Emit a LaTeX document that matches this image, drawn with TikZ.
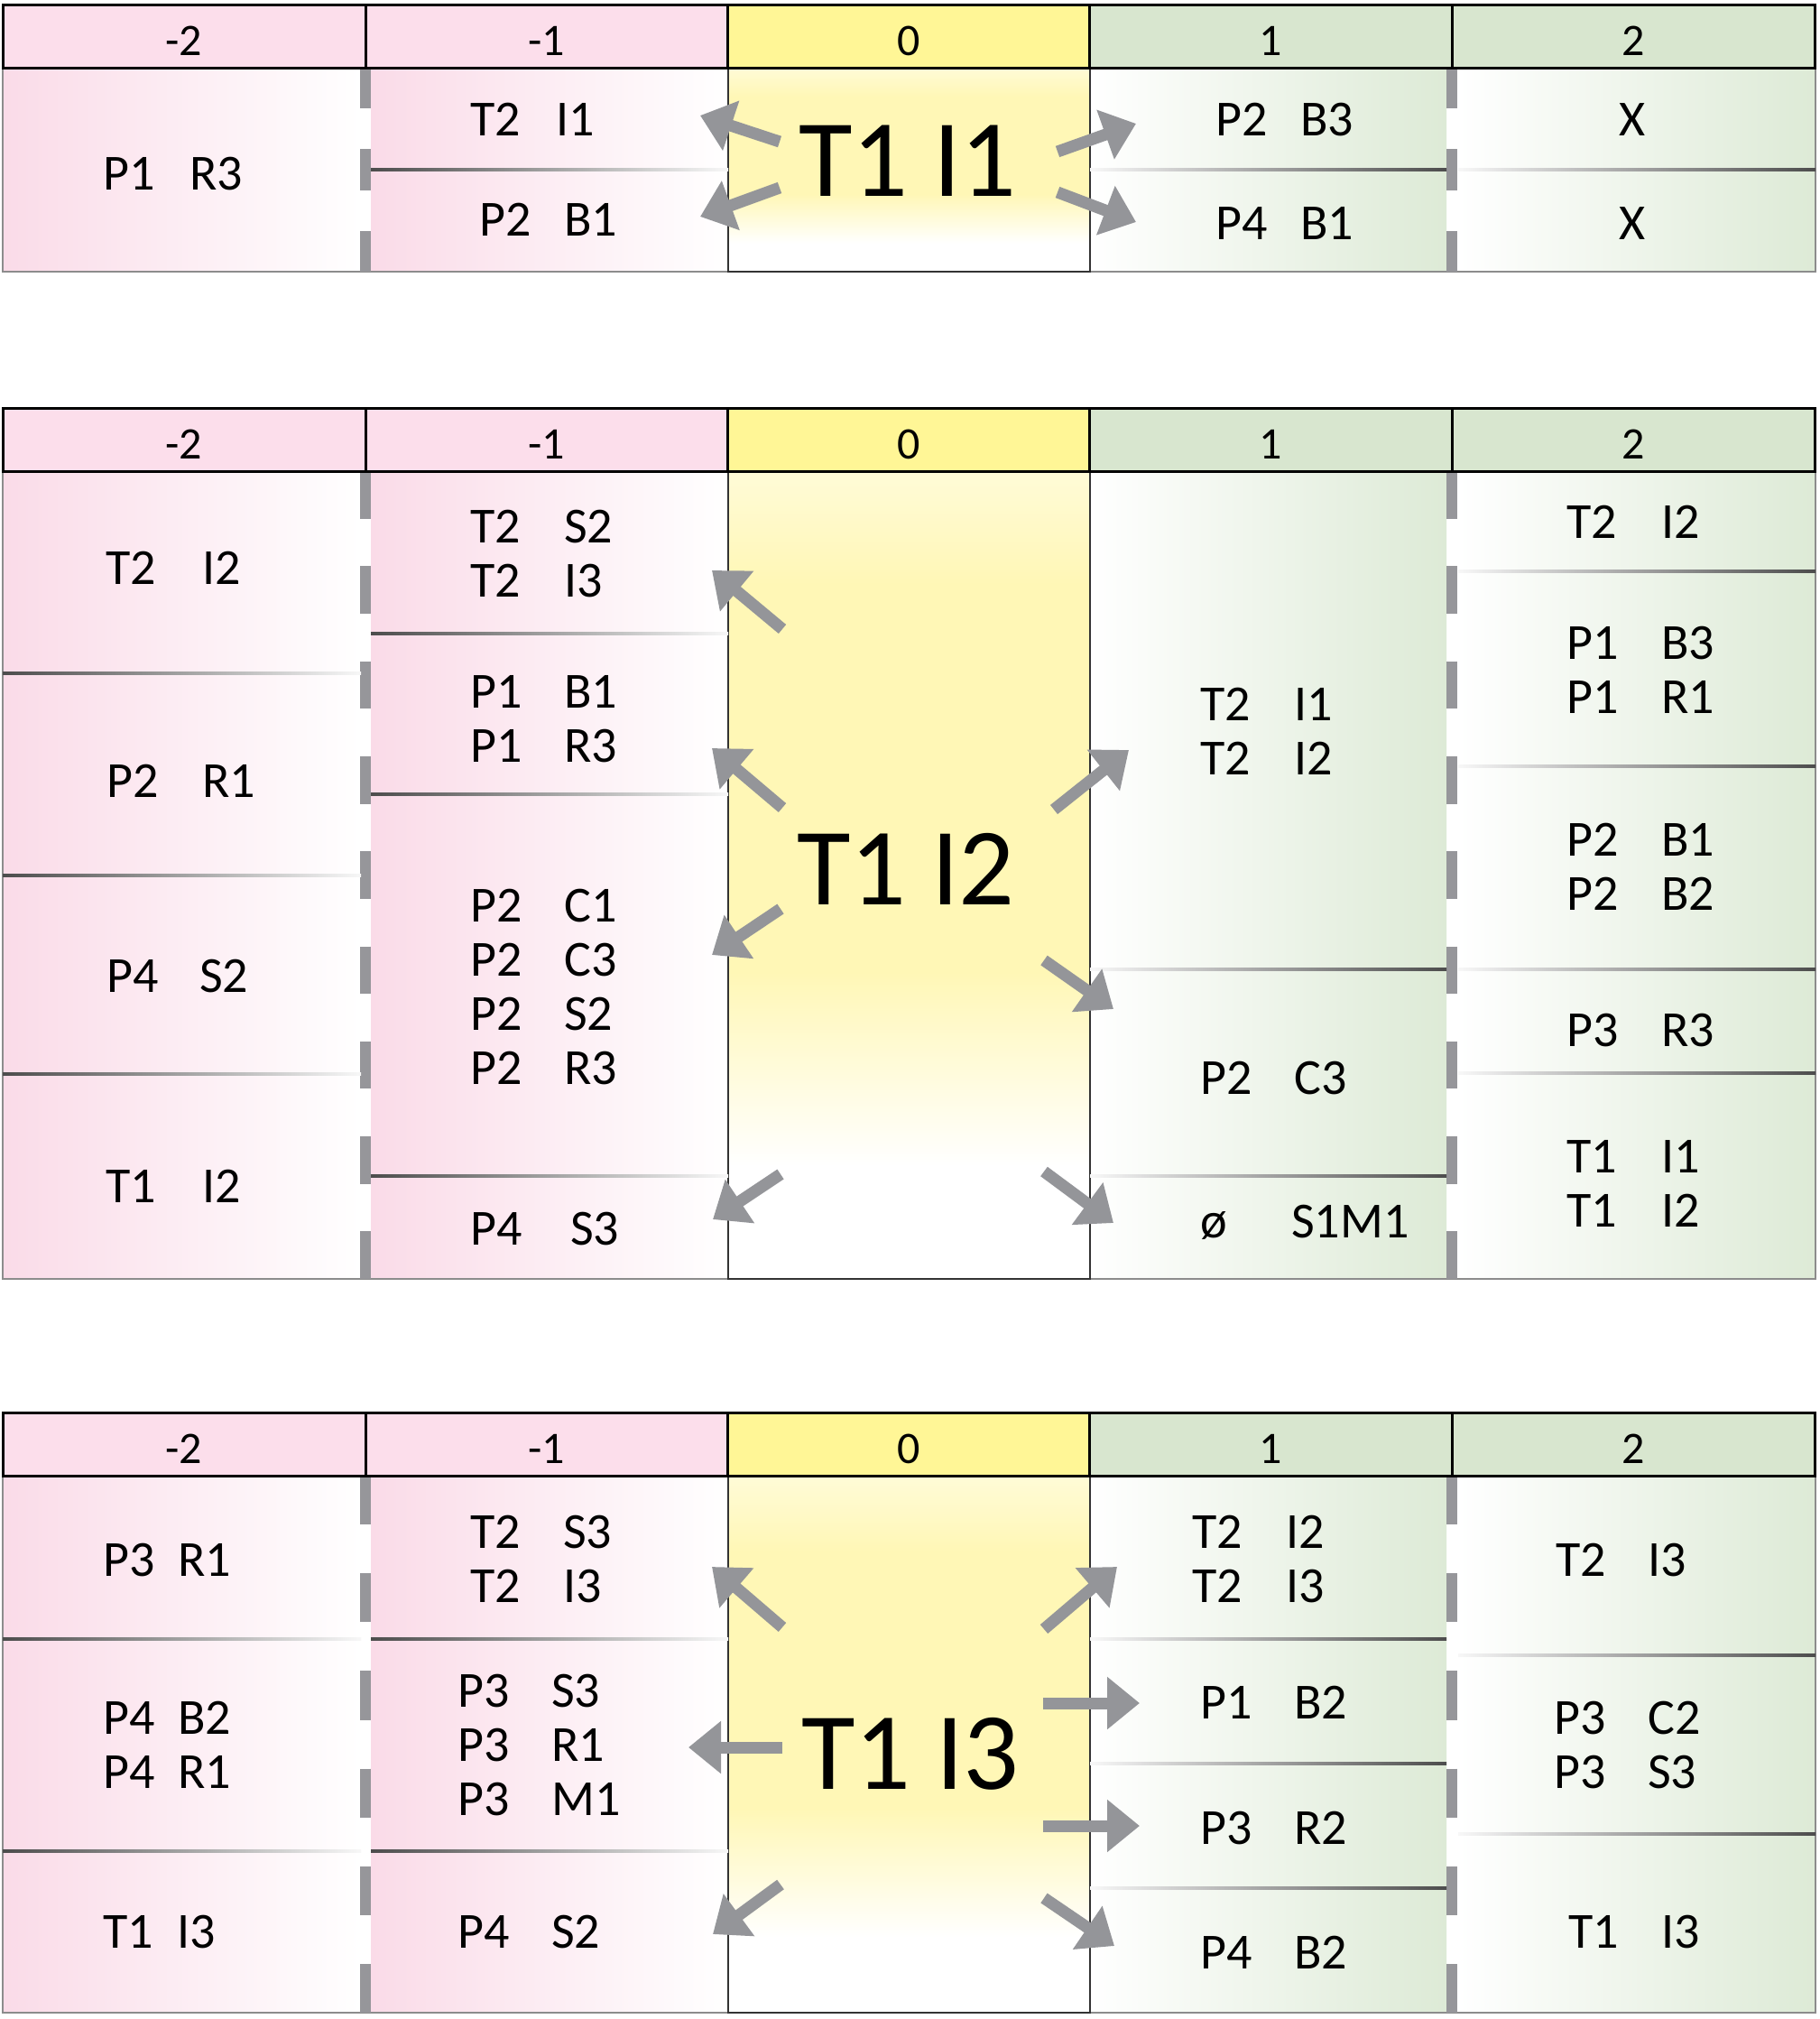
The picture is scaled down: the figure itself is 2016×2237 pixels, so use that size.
\documentclass[tikz,border=0pt]{standalone}
\usepackage{fontspec}
\setmainfont{Carlito}
\usetikzlibrary{arrows.meta}
\definecolor{pinkH}{RGB}{252,222,235}
\definecolor{yelH}{RGB}{255,246,150}
\definecolor{grnH}{RGB}{216,230,207}
\definecolor{pinkB}{RGB}{250,219,232}
\definecolor{grnB}{RGB}{221,234,214}
\definecolor{yelB}{RGB}{255,247,182}
\definecolor{yelT}{RGB}{255,251,215}
\definecolor{arrG}{RGB}{148,149,153}
\definecolor{dashG}{RGB}{150,150,154}
\pgfdeclareverticalshading{yelfade}{100bp}{color(0bp)=(white); color(25bp)=(white); color(32bp)=(white); color(44bp)=(yelB); color(68bp)=(yelB); color(75bp)=(yelT); color(100bp)=(yelT)}
\newcommand\cel[2]{\begin{tabular}{@{}p{#1pt}@{}l@{}}#2\end{tabular}}
\tikzset{
  hdrcell/.style={draw=black, line width=3pt, minimum width=402pt, minimum height=70pt, inner sep=0pt},
  hdrtext/.style={font=\fontsize{50}{56}\selectfont, inner sep=0pt},
  celltext/.style={font=\fontsize{56}{60}\selectfont, inner sep=0pt, anchor=west},
  xtext/.style={font=\fontsize{56}{60}\selectfont, inner sep=0pt},
  bigtext/.style={font=\fontsize{122}{130}\selectfont, inner sep=0pt},
  arr/.style={line width=13pt, color=arrG, -{Triangle[length=36pt,width=56pt]}},
  sepline/.style={line width=12pt, color=dashG},
  rowL/.style={left color=black!70, right color=black!3},
  rowR/.style={left color=black!3, right color=black!70},
  pinkfill/.style={left color=pinkB, right color=white},
  grnfill/.style={left color=white, right color=grnB},
  yelfill/.style={shading=yelfade},
  thinb/.style={line width=1.5pt, color=black!45},
  zerob/.style={line width=1.5pt, color=black!80},
}
% #1 prefix, #2 top, #3 header bottom, #4 bottom, #5 dash length
\newcommand\sect[5]{%
  \shade[pinkfill] (3,#3) rectangle (400,#4);
  \shade[pinkfill] (411,#3) rectangle (807,#4);
  \shade[yelfill] (807,#3) rectangle (1208,#4);
  \shade[grnfill] (1208,#3) rectangle (1603,#4);
  \shade[grnfill] (1616,#3) rectangle (2012,#4);
  \draw[thinb] (3,#3) -- (3,#4) -- (2012,#4) -- (2012,#3);
  \draw[zerob] (807,#3) -- (807,#4) -- (1208,#4) -- (1208,#3);
  \draw[sepline, dash pattern=on #5pt off #5pt] (405,#3) -- (405,#4);
  \draw[sepline, dash pattern=on #5pt off #5pt] (1609,#3) -- (1609,#4);
  \node[hdrcell, fill=pinkH] (#1h1) at (204,{(#2+#3)/2}) {};
  \node[hdrcell, fill=pinkH] (#1h2) at (606,{(#2+#3)/2}) {};
  \node[hdrcell, fill=yelH]  (#1h3) at (1007.5,{(#2+#3)/2}) {};
  \node[hdrcell, fill=grnH]  (#1h4) at (1408.5,{(#2+#3)/2}) {};
  \node[hdrcell, fill=grnH]  (#1h5) at (1810.5,{(#2+#3)/2}) {};
  \node[hdrtext] (#1t1) at ([yshift=-5pt]#1h1.center) {-2};
  \node[hdrtext] (#1t2) at ([yshift=-5pt]#1h2.center) {-1};
  \node[hdrtext] (#1t3) at ([yshift=-5pt]#1h3.center) {0};
  \node[hdrtext] (#1t4) at ([yshift=-5pt]#1h4.center) {1};
  \node[hdrtext] (#1t5) at ([yshift=-5pt]#1h5.center) {2};
}
\newcommand\rowl[3]{\shade[rowL] (#1,#3-1.5) rectangle (#2,#3+1.5);}
\newcommand\rowr[3]{\shade[rowR] (#1,#3-1.5) rectangle (#2,#3+1.5);}
\begin{document}
\begin{tikzpicture}[x=1pt,y=-1pt]
\useasboundingbox[fill=white] (0,0) rectangle (2016,2237);

% ================= Section 1 =================
\sect{a}{6}{75}{301}{45.2}
\rowl{411}{807}{188}
\rowr{1208}{1603}{188}
\rowr{1616}{2012}{188}
\node[celltext] (a11) at (114,199) {\cel{96}{P1 & R3}};
\node[celltext] (a21) at (521,139) {\cel{95}{T2 & I1}};
\node[celltext] (a22) at (531,249) {\cel{94}{P2 & B1}};
\node[celltext] (a41) at (1347,139) {\cel{94}{P2 & B3}};
\node[celltext] (a42) at (1347,253) {\cel{94}{P4 & B1}};
\node[xtext] (a51) at (1809,139) {\begin{tabular}{@{}c@{}}X\end{tabular}};
\node[xtext] (a52) at (1809,253) {\begin{tabular}{@{}c@{}}X\end{tabular}};
\node[bigtext] (abig) at (1006,178) {T1 I1};
\coordinate (aas1) at (864,157);  \coordinate (aae1) at (776,128);
\coordinate (aas2) at (864,208);  \coordinate (aae2) at (776,240);
\coordinate (aas3) at (1172,168); \coordinate (aae3) at (1259,137);
\coordinate (aas4) at (1172,213); \coordinate (aae4) at (1259,246);
\draw[arr] (aas1) -- (aae1);
\draw[arr] (aas2) -- (aae2);
\draw[arr] (aas3) -- (aae3);
\draw[arr] (aas4) -- (aae4);

% ================= Section 2 =================
\sect{b}{453}{522}{1417}{52.65}
\rowl{3}{400}{746}
\rowl{3}{400}{970}
\rowl{3}{400}{1190}
\rowl{411}{807}{702}
\rowl{411}{807}{880}
\rowl{411}{807}{1303}
\rowr{1208}{1603}{1074}
\rowr{1208}{1603}{1303}
\rowr{1616}{2012}{633}
\rowr{1616}{2012}{849}
\rowr{1616}{2012}{1074}
\rowr{1616}{2012}{1189}
\node[celltext] (b11) at (117,635) {\cel{107}{T2 & I2}};
\node[celltext] (b12) at (118,871) {\cel{106}{P2 & R1}};
\node[celltext] (b13) at (118,1087) {\cel{103}{P4 & S2}};
\node[celltext] (b14) at (117,1320) {\cel{107}{T1 & I2}};
\node[celltext] (b21) at (521,619) {\cel{104}{T2 & S2\\ T2 & I3}};
\node[celltext] (b22) at (521,802) {\cel{104}{P1 & B1\\ P1 & R3}};
\node[celltext] (b23) at (521,1099) {\cel{104}{P2 & C1\\ P2 & C3\\ P2 & S2\\ P2 & R3}};
\node[celltext] (b24) at (521,1367) {\cel{111}{P4 & S3}};
\node[celltext] (b41) at (1330,816) {\cel{104}{T2 & I1\\ T2 & I2}};
\node[celltext] (b42) at (1330,1200) {\cel{104}{P2 & C3}};
\node[celltext] (b43) at (1330,1359) {\cel{101}{ø & S1M1}};
\node[celltext] (b51) at (1736,584) {\cel{105}{T2 & I2}};
\node[celltext] (b52) at (1736,748) {\cel{105}{P1 & B3\\ P1 & R1}};
\node[celltext] (b53) at (1736,966) {\cel{105}{P2 & B1\\ P2 & B2}};
\node[celltext] (b54) at (1736,1147) {\cel{105}{P3 & R3}};
\node[celltext] (b55) at (1736,1317) {\cel{105}{T1 & I1\\ T1 & I2}};
\node[bigtext] (bbig) at (1004,963) {T1 I2};
\coordinate (bas1) at (867,697);  \coordinate (bae1) at (789,632);
\coordinate (bas2) at (867,895);  \coordinate (bae2) at (789,829);
\coordinate (bas3) at (865,1007); \coordinate (bae3) at (789,1058);
\coordinate (bas4) at (865,1301); \coordinate (bae4) at (790,1351);
\coordinate (bas5) at (1168,897); \coordinate (bae5) at (1251,831);
\coordinate (bas6) at (1157,1064); \coordinate (bae6) at (1234,1118);
\coordinate (bas7) at (1157,1298); \coordinate (bae7) at (1234,1355);
\foreach \i in {1,...,7} {\draw[arr] (bas\i) -- (bae\i);}

% ================= Section 3 =================
\sect{c}{1565}{1635}{2230}{54.1}
\rowl{3}{400}{1816}
\rowl{3}{400}{2051}
\rowl{411}{807}{1816}
\rowl{411}{807}{2051}
\rowr{1208}{1603}{1816}
\rowr{1208}{1603}{1954}
\rowr{1208}{1603}{2092}
\rowr{1616}{2012}{1834}
\rowr{1616}{2012}{2032}
\node[celltext] (c11) at (114,1734) {\cel{83}{P3 & R1}};
\node[celltext] (c12) at (114,1939) {\cel{83}{P4 & B2\\ P4 & R1}};
\node[celltext] (c13) at (114,2146) {\cel{82}{T1 & I3}};
\node[celltext] (c21) at (521,1733) {\cel{103}{T2 & S3\\ T2 & I3}};
\node[celltext] (c22) at (507,1939) {\cel{104}{P3 & S3\\ P3 & R1\\ P3 & M1}};
\node[celltext] (c23) at (507,2146) {\cel{104}{P4 & S2}};
\node[celltext] (c41) at (1321,1733) {\cel{104}{T2 & I2\\ T2 & I3}};
\node[celltext] (c42) at (1330,1892) {\cel{104}{P1 & B2}};
\node[celltext] (c43) at (1330,2031) {\cel{104}{P3 & R2}};
\node[celltext] (c44) at (1330,2169) {\cel{104}{P4 & B2}};
\node[celltext] (c51) at (1724,1734) {\cel{102}{T2 & I3}};
\node[celltext] (c52) at (1722,1939) {\cel{104}{P3 & C2\\ P3 & S3}};
\node[celltext] (c53) at (1738,2146) {\cel{103}{T1 & I3}};
\node[bigtext] (cbig) at (1009,1943) {T1 I3};
\coordinate (cas1) at (867,1803);  \coordinate (cae1) at (789,1736);
\coordinate (cas2) at (867,1936);  \coordinate (cae2) at (763,1936);
\coordinate (cas3) at (865,2088);  \coordinate (cae3) at (790,2143);
\coordinate (cas4) at (1157,1805); \coordinate (cae4) at (1238,1736);
\coordinate (cas5) at (1156,1887); \coordinate (cae5) at (1263,1887);
\coordinate (cas6) at (1156,2023); \coordinate (cae6) at (1263,2023);
\coordinate (cas7) at (1157,2103); \coordinate (cae7) at (1235,2156);
\foreach \i in {1,...,7} {\draw[arr] (cas\i) -- (cae\i);}
\end{tikzpicture}
\end{document}
